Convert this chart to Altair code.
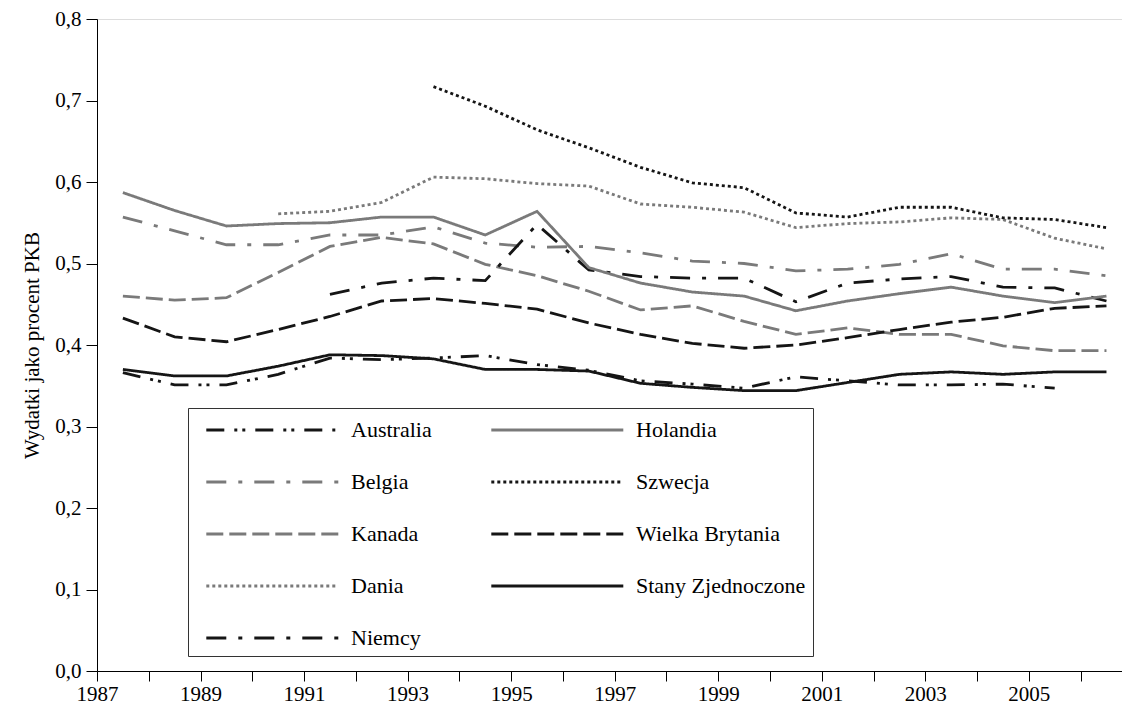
import altair as alt
import pandas as pd

years = list(range(1987, 2007))

australia = [0.366, 0.351, 0.351, 0.364, 0.384, 0.382, 0.384, 0.387, 0.376, 0.369,
             0.356, 0.352, 0.347, 0.361, 0.356, 0.351, 0.351, 0.352, 0.347, None]
belgia = [0.557, 0.540, 0.523, 0.523, 0.535, 0.535, 0.545, 0.525, 0.520, 0.521,
          0.513, 0.503, 0.500, 0.491, 0.493, 0.499, 0.512, 0.493, 0.493, 0.485]
kanada = [0.460, 0.455, 0.458, 0.489, 0.521, 0.532, 0.524, 0.499, 0.485, 0.466,
          0.443, 0.448, 0.429, 0.413, 0.421, 0.413, 0.413, 0.399, 0.393, 0.393]
dania = [None, None, None, 0.561, 0.564, 0.575, 0.606, 0.604, 0.598, 0.595,
         0.573, 0.569, 0.563, 0.544, 0.549, 0.551, 0.556, 0.554, 0.531, 0.518]
niemcy = [None, None, None, None, 0.462, 0.476, 0.482, 0.479, 0.548, 0.492,
          0.484, 0.482, 0.482, 0.453, 0.476, 0.481, 0.484, 0.471, 0.470, 0.454]
holandia = [0.587, 0.565, 0.546, 0.549, 0.550, 0.557, 0.557, 0.535, 0.564, 0.495,
            0.476, 0.465, 0.460, 0.442, 0.454, 0.463, 0.471, 0.460, 0.452, 0.460]
szwecja = [None, None, None, None, None, None, 0.717, 0.693, 0.664, 0.642,
           0.618, 0.599, 0.593, 0.562, 0.557, 0.569, 0.569, 0.556, 0.554, 0.544]
wielka_brytania = [0.433, 0.410, 0.404, 0.419, 0.435, 0.454, 0.457, 0.451, 0.444, 0.427,
                   0.413, 0.402, 0.396, 0.400, 0.409, 0.419, 0.428, 0.434, 0.445, 0.448]
stany = [0.370, 0.362, 0.362, 0.374, 0.388, 0.387, 0.383, 0.370, 0.370, 0.368,
         0.353, 0.348, 0.344, 0.344, 0.354, 0.364, 0.367, 0.364, 0.367, 0.367]

series = {
    "Australia": australia,
    "Belgia": belgia,
    "Kanada": kanada,
    "Dania": dania,
    "Niemcy": niemcy,
    "Holandia": holandia,
    "Szwecja": szwecja,
    "Wielka Brytania": wielka_brytania,
    "Stany Zjednoczone": stany,
}

legend_order = list(series.keys())
GRAY = "#7a7a7a"
BLACK = "#151515"
styles = {
    "Australia": (BLACK, [18, 10, 3, 5, 3, 10]),
    "Belgia": (GRAY, [20, 12, 4, 12]),
    "Kanada": (GRAY, [17, 6]),
    "Dania": (GRAY, [3, 3]),
    "Niemcy": (BLACK, [20, 12, 4, 12]),
    "Holandia": (GRAY, [1, 0]),
    "Szwecja": (BLACK, [3, 3]),
    "Wielka Brytania": (BLACK, [17, 6]),
    "Stany Zjednoczone": (BLACK, [1, 0]),
}

rows = []
for name, vals in series.items():
    for y, v in zip(years, vals):
        if v is not None:
            rows.append({"kraj": name, "rok": y, "wartosc": v})
df = pd.DataFrame(rows)

FONT = "Liberation Serif"

chart = alt.Chart(df).transform_calculate(
    srodek="datum.rok + 0.5"
).mark_line(strokeWidth=2.8).encode(
    x=alt.X("srodek:Q",
            scale=alt.Scale(domain=[1987, 2006.8], nice=False, zero=False),
            axis=alt.Axis(title=None, values=list(range(1987, 2007)),
                          labelExpr="datum.value % 2 == 1 && datum.value < 2006 ? '' + datum.value : ''",
                          grid=False, tickSize=10, labelPadding=2,
                          labelFont=FONT, labelFontSize=21, labelColor="black",
                          domainColor="black", tickColor="black",
                          labelFlush=False, labelOverlap=False)),
    y=alt.Y("wartosc:Q",
            scale=alt.Scale(domain=[0, 0.8], nice=False),
            axis=alt.Axis(title="Wydatki jako procent PKB",
                          values=[0, 0.1, 0.2, 0.3, 0.4, 0.5, 0.6, 0.7, 0.8],
                          labelExpr="replace(format(datum.value, '.1f'), '.', ',')",
                          grid=False, tickSize=11, labelPadding=5,
                          labelFont=FONT, labelFontSize=21, labelColor="black",
                          titleFont=FONT, titleFontSize=21, titleFontWeight="normal",
                          titleColor="black", titlePadding=12,
                          domainColor="black", tickColor="black")),
    color=alt.Color("kraj:N",
                    scale=alt.Scale(domain=legend_order,
                                    range=[styles[k][0] for k in legend_order]),
                    legend=alt.Legend(title=None, orient="none", legendX=91, legendY=389,
                                      columns=2, symbolType="M-0.28,0H9.72",
                                      symbolSize=697, symbolStrokeWidth=3,
                                      labelFont=FONT, labelFontSize=22, labelColor="black",
                                      labelOffset=126, columnPadding=48, rowPadding=26,
                                      padding=7, strokeColor="#333333",
                                      fillColor="white", labelLimit=400)),
    strokeDash=alt.StrokeDash("kraj:N",
                              scale=alt.Scale(domain=legend_order,
                                              range=[styles[k][1] for k in legend_order]),
                              legend=alt.Legend(title=None)),
    detail="kraj:N",
).properties(
    width=1025,
    height=652,
    padding={"left": 13, "top": 0, "right": 0, "bottom": 0},
).configure_view(stroke=None).configure(background="white")

chart.save("out.html", embed_options={"renderer": "svg", "actions": False})
